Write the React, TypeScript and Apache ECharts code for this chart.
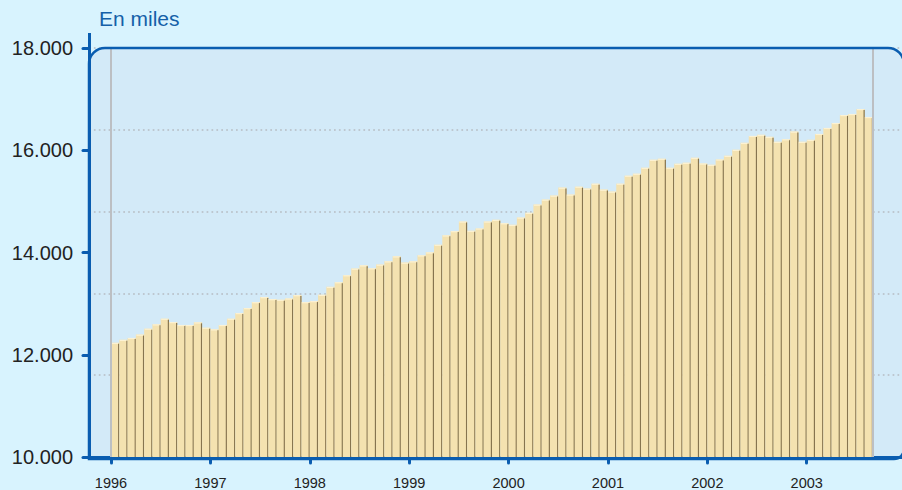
import React, { useEffect, useRef } from "react";
import * as echarts from "echarts";

const startYear = 1996;
const yearTicks = [0, 12, 24, 36, 48, 60, 72, 84];
const yTickLabels = [10000, 12000, 14000, 16000, 18000];
const values = [
  12233, 12291, 12330, 12394, 12511, 12595, 12706, 12641, 12583, 12583, 12634, 12530,
  12498, 12583, 12706, 12816, 12913, 13030, 13128, 13089, 13076, 13102, 13167, 13030,
  13050, 13173, 13328, 13420, 13556, 13685, 13750, 13692, 13763, 13828, 13925, 13802,
  13828, 13945, 14003, 14152, 14335, 14419, 14607, 14425, 14471, 14607, 14639, 14574,
  14541, 14685, 14776, 14938, 15035, 15113, 15269, 15133, 15288, 15250, 15347, 15230,
  15191, 15347, 15503, 15542, 15658, 15814, 15834, 15658, 15736, 15756, 15853, 15742,
  15716, 15820, 15892, 16009, 16145, 16281, 16301, 16262, 16165, 16216, 16365, 16165,
  16203, 16320, 16437, 16534, 16690, 16710, 16807, 16651,
];
const months = values.map((_, i) => `${startYear + Math.floor(i / 12)}-${String((i % 12) + 1).padStart(2, "0")}`);

const FONT = "'Liberation Sans', Arial, sans-serif";
const BLUE = "#0a5db0";
const Y_MIN = 10000;
const Y_MAX = 18000;

export default function App() {
  const ref = useRef<HTMLDivElement>(null);
  useEffect(() => {
    if (!ref.current) return;
    const chart = echarts.init(ref.current, null, { renderer: "svg" });
    const fmt = (v: number) => {
      const s = String(Math.round(v));
      return s.replace(/\B(?=(\d{3})+(?!\d))/g, ".");
    };
    chart.setOption({
      animation: false,
      backgroundColor: "#d8f3fe",
      textStyle: { fontFamily: FONT },
      grid: { left: 89, top: 48, right: 0, bottom: 31, containLabel: false },
      graphic: [
        {
          type: "rect",
          z: -10,
          shape: { x: 89, y: 48, width: 815, height: 411, r: [16, 16, 10, 0] },
          style: { fill: "#d3eaf8" },
          silent: true,
        },
        {
          type: "rect",
          z: 100,
          shape: { x: 89, y: 48, width: 815, height: 411, r: [16, 16, 10, 0] },
          style: { fill: "none", stroke: BLUE, lineWidth: 2.5 },
          silent: true,
        },
        {
          type: "line",
          z: 101,
          shape: { x1: 89.5, y1: 33, x2: 89.5, y2: 62 },
          style: { stroke: BLUE, lineWidth: 3 },
        },
        {
          type: "text",
          left: 99,
          top: 8,
          style: { text: "En miles", fill: "#1560a8", font: `21px ${FONT}` },
        },
      ],
      xAxis: {
        type: "value",
        min: -2.656,
        max: 95.5,
        splitLine: { show: false },
        axisLine: { show: true, onZero: false, lineStyle: { color: BLUE, width: 3 } },
        axisTick: {
          show: true,
          customValues: yearTicks,
          length: 6,
          lineStyle: { color: BLUE, width: 3, cap: "round" },
        },
        axisLabel: {
          customValues: yearTicks,
          margin: 18,
          color: "#222",
          fontSize: 14.5,
          fontFamily: FONT,
          formatter: (v: number) => String(startYear + Math.round(v / 12)),
        },
      },
      yAxis: [
        {
          type: "value",
          min: Y_MIN,
          max: Y_MAX,
          interval: 2000,
          splitLine: { show: false },
          axisLine: { show: true, onZero: false, lineStyle: { color: BLUE, width: 3 } },
          axisTick: { show: true, length: 6, lineStyle: { color: BLUE, width: 3, cap: "round" } },
          axisLabel: {
            color: "#222",
            fontSize: 20,
            fontFamily: FONT,
            margin: 16,
            formatter: (v: number) => (yTickLabels.includes(v) ? fmt(v) : ""),
          },
        },
        {
          type: "value",
          position: "left",
          min: Y_MIN,
          max: Y_MAX,
          interval: 1600,
          axisLine: { show: false, onZero: false },
          axisTick: { show: false },
          axisLabel: { show: false },
          splitLine: {
            show: true,
            lineStyle: { color: "#b6bcc2", width: 1.5, type: [1.7, 3.2] },
          },
        },
      ],
      series: [
        {
          type: "custom",
          name: "En miles",
          xAxisIndex: 0,
          yAxisIndex: 0,
          z: 2,
          encode: { x: 0, y: 1 },
          data: values.map((v, i) => [i, v, months[i]]),
          renderItem: (params: any, api: any) => {
            const i = api.value(0);
            const v = api.value(1);
            const p0 = api.coord([i, v]);
            const p1 = api.coord([i + 1, Y_MIN]);
            const x0 = p0[0];
            const x1 = p1[0];
            const y0 = p0[1];
            const y1 = p1[1];
            return {
              type: "group",
              children: [
                {
                  type: "rect",
                  shape: { x: x0, y: y0, width: x1 - x0, height: y1 - y0 },
                  style: { fill: "#f4e2b0" },
                },
                {
                  type: "line",
                  shape: { x1: x0 + 0.5, y1: y0 + 0.6, x2: x1 - 1, y2: y0 + 0.6 },
                  style: { stroke: "#fcf2d4", lineWidth: 1.2 },
                },
                {
                  type: "line",
                  shape: { x1: x1 - 0.6, y1: y0 + 1, x2: x1 - 0.6, y2: y1 },
                  style: { stroke: "#86744f", lineWidth: 1.2 },
                },
              ],
            };
          },
          markLine: {
            silent: true,
            symbol: "none",
            label: { show: false },
            lineStyle: { color: "#bcbfc3", width: 2, type: "solid" },
            data: [{ xAxis: 0 }, { xAxis: values.length }],
          },
        },
      ],
    });
    return () => chart.dispose();
  }, []);
  return (
    <div
      ref={ref}
      style={{ position: "fixed", left: 0, top: 0, width: 902, height: 490 }}
    />
  );
}
